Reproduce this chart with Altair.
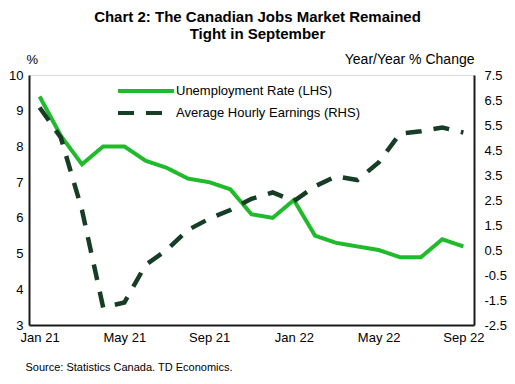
import altair as alt
import pandas as pd

months = ["Jan 21", "Feb 21", "Mar 21", "Apr 21", "May 21", "Jun 21", "Jul 21",
          "Aug 21", "Sep 21", "Oct 21", "Nov 21", "Dec 21", "Jan 22", "Feb 22",
          "Mar 22", "Apr 22", "May 22", "Jun 22", "Jul 22", "Aug 22", "Sep 22"]
tick_months = ["Jan 21", "May 21", "Sep 21", "Jan 22", "May 22", "Sep 22"]

unemployment = [9.4, 8.3, 7.5, 8.0, 8.0, 7.6, 7.4, 7.1, 7.0, 6.8, 6.1, 6.0,
                6.5, 5.5, 5.3, 5.2, 5.1, 4.9, 4.9, 5.4, 5.2]
earnings = [6.2, 5.0, 2.1, -1.8, -1.6, -0.1, 0.5, 1.3, 1.75, 2.1, 2.55, 2.8,
            2.45, 3.05, 3.45, 3.3, 4.0, 5.15, 5.25, 5.4, 5.2]

series_names = ["Unemployment Rate (LHS)", "Average Hourly Earnings (RHS)"]
left_ticks = [3, 4, 5, 6, 7, 8, 9, 10]
right_ticks = [-2.5, -1.5, -0.5, 0.5, 1.5, 2.5, 3.5, 4.5, 5.5, 6.5, 7.5]

df = pd.DataFrame({
    "month": months * 2,
    "series": [series_names[0]] * len(months) + [series_names[1]] * len(months),
    "value": unemployment + earnings,
})

FONT = "Liberation Sans"
AXC = "#1a1a1a"

x = alt.X("month:O", sort=months,
          scale=alt.Scale(type="point", padding=0.5),
          axis=alt.Axis(values=tick_months, labelAngle=0, ticks=False,
                        domainColor=AXC, domainWidth=2, labelFontSize=13,
                        labelColor="#000", labelPadding=6, labelFont=FONT,
                        title="Source:  Statistics  Canada,  TD  Economics.",
                        titleX=-4, titleY=42, titleAlign="left",
                        titleBaseline="middle", titleFontSize=11,
                        titleFontWeight="normal", titleFont=FONT,
                        titleColor="#000"))

legend = alt.Legend(title=None, orient="none", legendX=110, legendY=9,
                    symbolType="M-5.6,0L5.6,0", symbolSize=100,
                    symbolStrokeWidth=4,
                    labelFontSize=13, labelFont=FONT, labelColor="#000",
                    labelOffset=23, rowPadding=6, labelLimit=400)

color = alt.Color("series:N", scale=alt.Scale(domain=series_names,
                                               range=["#20bb2b", "#183d27"]),
                  legend=legend)
dash = alt.StrokeDash("series:N", scale=alt.Scale(domain=series_names,
                                                   range=[[1, 0], [16, 12]]),
                      legend=legend)

left = alt.Chart(df).transform_filter(
    alt.datum.series == series_names[0]
).mark_line(strokeWidth=4, strokeCap="butt").encode(
    x=x,
    y=alt.Y("value:Q", scale=alt.Scale(domain=[3, 10], nice=False, zero=False),
            axis=alt.Axis(values=left_ticks, ticks=False, grid=False,
                          domainColor=AXC, domainWidth=2, labelFontSize=13,
                          labelFont=FONT, labelColor="#000", labelPadding=6,
                          title="%", titleAngle=0, titleX=-3, titleY=-9,
                          titleAlign="left", titleBaseline="bottom",
                          titleFontSize=13, titleFontWeight="normal",
                          titleFont=FONT, titleColor="#000")),
    color=color,
    strokeDash=dash,
)

right = alt.Chart(df).transform_filter(
    alt.datum.series == series_names[1]
).mark_line(strokeWidth=4.5, strokeCap="butt").encode(
    x=x,
    y=alt.Y("value:Q", scale=alt.Scale(domain=[-2.5, 7.5], nice=False, zero=False),
            axis=alt.Axis(orient="right", values=right_ticks, ticks=False,
                          grid=False,
                          labelExpr="datum.value < 0 ? '-' + format(-datum.value, '.1f') : format(datum.value, '.1f')",
                          domainColor=AXC, domainWidth=2, labelFontSize=13,
                          labelFont=FONT, labelColor="#000", labelPadding=10,
                          title="Year/Year  % Change", titleAngle=0, titleX=0,
                          titleY=-9, titleAlign="right", titleBaseline="bottom",
                          titleFontSize=14, titleFontWeight="normal",
                          titleFont=FONT, titleColor="#000")),
    color=color,
    strokeDash=dash,
)

chart = alt.layer(left, right).resolve_scale(y="independent").properties(
    width=445, height=250,
    autosize=alt.AutoSizeParams(type="none"),
    padding={"left": 21, "top": 67, "right": 33, "bottom": 46},
    title=alt.TitleParams(["Chart 2: The Canadian  Jobs Market Remained",
                           "Tight in  September"],
                          anchor="middle", frame="group", offset=10, dx=6,
                          fontSize=15, fontWeight="bold", font=FONT,
                          color="#000", lineHeight=17),
).configure_view(stroke=None).configure(background="white")

chart.save("out.html", embed_options={"renderer": "svg", "actions": False})
